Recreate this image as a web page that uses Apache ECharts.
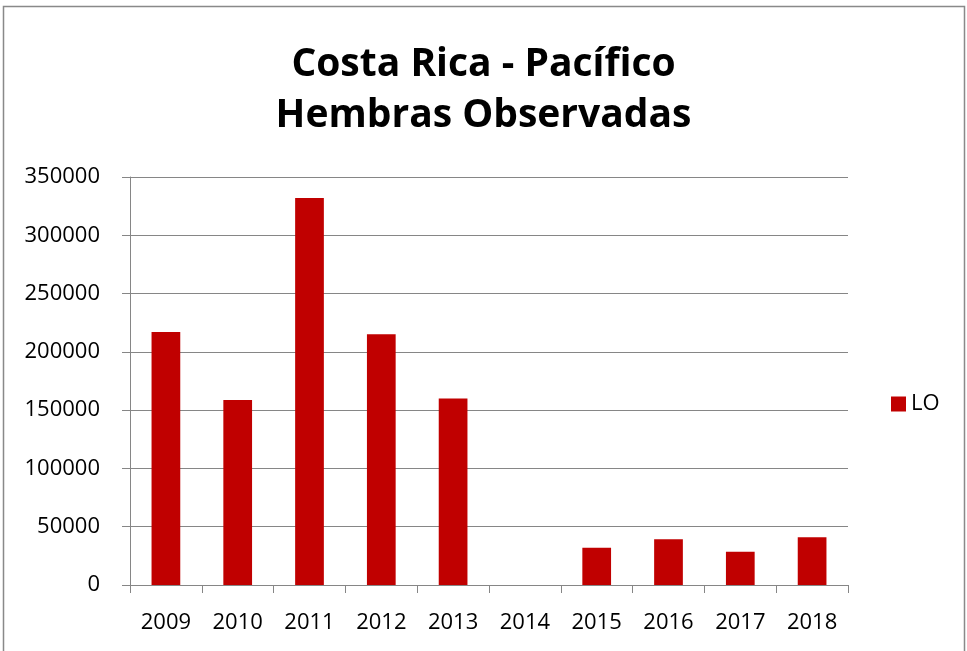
<!DOCTYPE html>
<html>
<head>
<meta charset="utf-8">
<script src="https://cdn.jsdelivr.net/npm/echarts@6/dist/echarts.min.js"></script>
<style>html,body{margin:0;padding:0;background:#fff;}#c{width:967px;height:651px;}</style>
</head>
<body>
<div id="c"></div>
<script>
const titleLines = ['Costa Rica - Pacífico', 'Hembras Observadas'];
const years = ['2009','2010','2011','2012','2013','2014','2015','2016','2017','2018'];
const seriesName = 'LO';
const loValues = [217000, 158700, 332000, 215000, 160000, 0, 32000, 39200, 28600, 40900];
const yTicks = [0, 50000, 100000, 150000, 200000, 250000, 300000, 350000];

const FONT = '"Open Sans", "Liberation Sans", sans-serif';
const chart = echarts.init(document.getElementById('c'), null, {renderer: 'canvas'});
chart.setOption({
  backgroundColor: '#ffffff',
  animation: false,
  graphic: [{
    type: 'rect', shape: {x: 3.5, y: 6.5, width: 961, height: 700},
    style: {fill: 'none', stroke: '#898989', lineWidth: 1.5}, silent: true
  }],
  title: {
    text: titleLines.join('\n'),
    left: 'center', top: 34,
    textStyle: {fontFamily: FONT, fontWeight: 'bold', fontSize: 39, lineHeight: 51, color: '#000'}
  },
  legend: {
    data: [seriesName], left: 886, top: 388, orient: 'vertical',
    icon: 'rect', itemWidth: 15, itemHeight: 15,
    textStyle: {fontFamily: FONT, fontSize: 22, color: '#000'}
  },
  grid: {left: 130, right: 119, top: 177, bottom: 66, containLabel: false},
  xAxis: {
    type: 'category', data: years,
    axisLine: {lineStyle: {color: '#868686', width: 1}},
    axisTick: {show: true, length: 8, lineStyle: {color: '#868686'}},
    axisLabel: {fontFamily: FONT, fontSize: 22, color: '#000', margin: 27}
  },
  yAxis: {
    type: 'value', min: yTicks[0], max: yTicks[yTicks.length - 1], interval: yTicks[1] - yTicks[0],
    axisLine: {show: true, lineStyle: {color: '#868686', width: 1}},
    axisTick: {show: true, length: 8, lineStyle: {color: '#868686'}},
    splitLine: {lineStyle: {color: '#868686', width: 1}},
    axisLabel: {fontFamily: FONT, fontSize: 22, color: '#000', margin: 30, formatter: v => String(v)}
  },
  series: [{
    name: seriesName, type: 'bar', data: loValues, barWidth: '40%',
    itemStyle: {color: '#C00000'}
  }]
});
</script>
</body>
</html>
